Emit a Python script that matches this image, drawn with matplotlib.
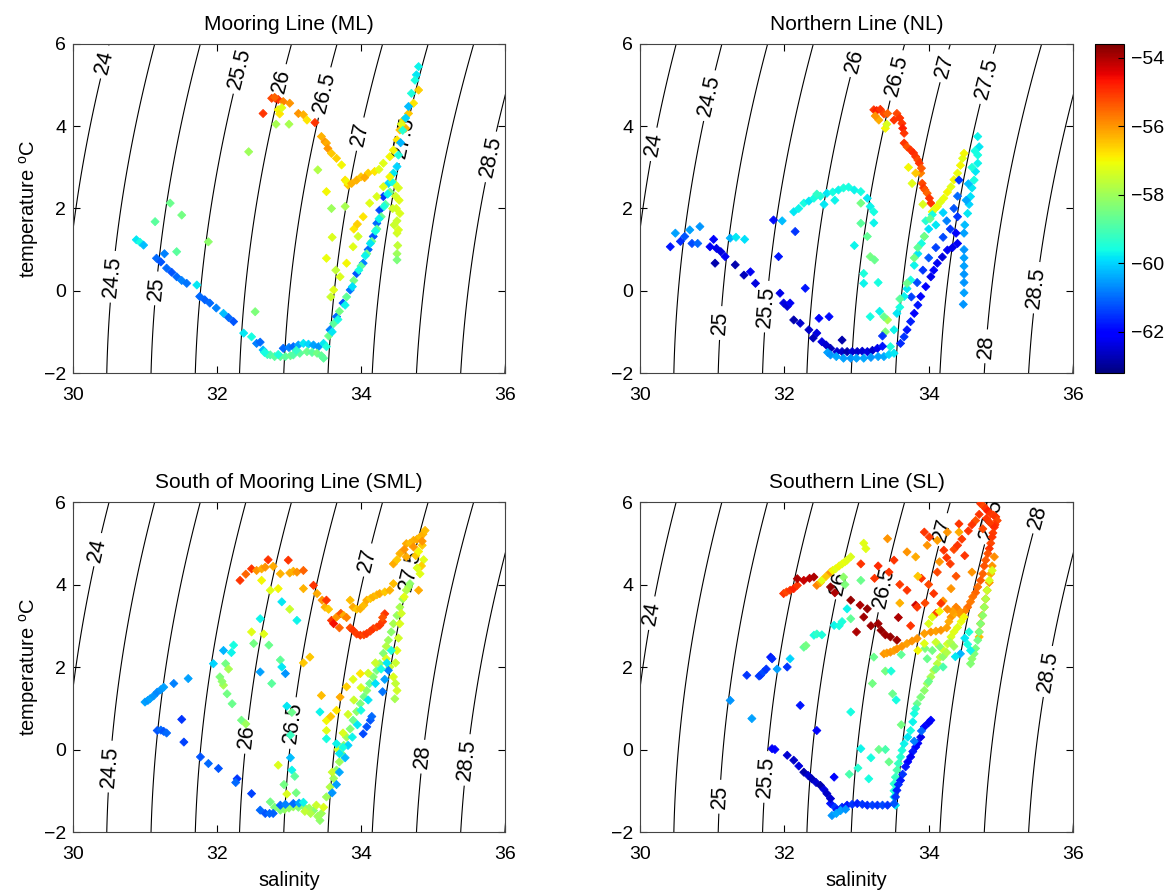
import numpy as np
import matplotlib
matplotlib.use("Agg")
import matplotlib.pyplot as plt

plt.rcParams['font.family'] = ['Liberation Sans', 'DejaVu Sans']
plt.rcParams['mathtext.fontset'] = 'custom'
plt.rcParams['mathtext.rm'] = 'Liberation Sans'

# colour = longitude (deg)
lon_min, lon_max = -63.2, -53.6
cbar_ticks = [-62, -60, -58, -56, -54]
density_levels = np.arange(24.0, 29.01, 0.5)
titles = ["Mooring Line (ML)", "Northern Line (NL)",
          "South of Mooring Line (SML)", "Southern Line (SL)"]

# rows: salinity, temperature, longitude
ml_pts = [
    (32.64, 4.31, -55.0), (32.76, 4.68, -55.2), (32.81, 4.68, -54.6), (32.85, 4.65, -55.0),
    (32.80, 4.70, -55.5), (32.92, 4.60, -55.8), (33.01, 4.56, -56.0), (33.13, 4.31, -56.0),
    (33.20, 4.28, -56.3), (33.25, 4.15, -56.8), (33.36, 4.09, -55.0),
    (32.85, 4.40, -57.0), (32.87, 4.30, -56.8), (32.90, 4.45, -57.2), (32.82, 4.05, -57.9),
    (33.00, 4.05, -57.9), (32.44, 3.38, -58.0),
    (33.45, 3.75, -56.3), (33.50, 3.62, -56.0), (33.52, 3.59, -56.2), (33.54, 3.46, -56.0),
    (33.59, 3.34, -56.5), (33.66, 3.22, -56.6), (33.73, 3.06, -57.0),
    (33.78, 2.69, -56.8), (33.82, 2.57, -56.5), (33.80, 2.65, -57.0), (33.87, 2.61, -56.3),
    (33.94, 2.69, -56.3), (34.00, 2.77, -56.5), (34.10, 2.86, -56.6), (34.19, 2.90, -56.8),
    (34.05, 2.75, -56.2),
    (34.25, 2.95, -57.2), (34.31, 3.10, -57.2), (34.40, 3.26, -57.0), (34.45, 3.42, -57.0),
    (34.50, 3.67, -56.8), (34.54, 3.91, -56.5), (34.59, 4.15, -56.6), (34.66, 4.31, -56.5),
    (34.73, 4.56, -56.8), (34.80, 4.88, -56.6), (34.62, 3.95, -56.3), (34.56, 4.05, -57.2),
    (34.80, 5.45, -59.7), (34.77, 5.25, -59.8), (34.75, 5.12, -59.6), (34.70, 4.80, -59.5),
    (34.66, 4.48, -60.2), (34.62, 4.20, -60.0), (34.58, 3.90, -59.4), (34.55, 3.60, -60.3),
    (34.52, 3.30, -59.5),
    (34.47, 2.60, -57.3), (34.48, 2.30, -57.4), (34.49, 2.00, -57.3), (34.50, 1.70, -57.5),
    (34.50, 1.40, -57.4), (34.51, 1.10, -57.6), (34.50, 0.90, -58.0), (34.50, 0.75, -58.4),
    (34.52, 1.48, -57.3), (34.54, 1.88, -57.3), (34.53, 2.20, -57.2), (34.52, 2.50, -57.3),
    (34.44, 2.00, -57.4), (34.46, 1.60, -57.5),
    (33.57, -0.95, -60.8), (33.66, -0.63, -61.0), (33.75, -0.30, -61.2), (33.85, 0.02, -60.9),
    (33.94, 0.42, -61.2), (34.03, 0.67, -60.8), (34.10, 1.00, -61.0), (34.17, 1.32, -61.2),
    (34.22, 1.64, -61.0), (34.26, 1.96, -61.3), (34.31, 2.29, -61.5), (34.38, 2.61, -60.0),
    (34.45, 2.86, -59.8), (34.50, 3.02, -60.0),
    (33.55, -1.10, -58.6), (33.62, -0.80, -58.8), (33.70, -0.50, -58.5), (33.80, -0.15, -58.7),
    (33.90, 0.25, -58.5), (34.00, 0.60, -58.8), (34.08, 0.90, -58.5), (34.15, 1.20, -58.6),
    (34.22, 1.50, -58.7), (34.28, 1.80, -58.6), (34.34, 2.10, -58.8), (34.40, 2.40, -58.5),
    (33.60, -1.00, -59.8), (33.68, -0.70, -59.6), (33.78, -0.35, -59.7), (33.88, 0.10, -59.9),
    (33.97, 0.50, -59.6), (34.06, 0.85, -59.7), (34.13, 1.15, -59.8), (34.20, 1.45, -59.6),
    (34.25, 1.75, -59.7), (34.32, 2.05, -59.5), (34.37, 2.35, -59.7), (34.43, 2.65, -59.6),
    (33.62, 0.02, -57.2), (33.71, 0.34, -57.3), (33.80, 0.67, -57.0), (33.89, 1.07, -57.2),
    (33.96, 1.32, -57.4), (34.03, 1.80, -56.8), (34.12, 2.13, -57.2), (34.22, 2.29, -57.3),
    (34.31, 2.53, -57.2), (34.40, 2.77, -57.0), (33.52, 0.79, -57.1), (33.60, 1.30, -57.3),
    (33.58, -0.15, -57.5), (33.90, 1.50, -56.8), (33.95, 1.62, -56.6),
    (33.78, 2.05, -57.9), (33.59, 2.00, -58.0), (33.52, 2.41, -57.0), (33.40, 2.94, -57.8),
    (33.65, 0.50, -57.6),
    (32.37, -1.03, -59.8), (32.48, -1.12, -59.6), (32.55, -1.28, -60.8), (32.60, -1.25, -61.0),
    (32.64, -1.44, -60.2), (32.92, -1.40, -61.0), (33.00, -1.38, -60.8), (33.06, -1.36, -61.0),
    (33.13, -1.32, -60.5), (33.20, -1.28, -59.8), (33.27, -1.30, -60.0), (33.34, -1.32, -60.5),
    (33.41, -1.36, -60.6), (33.48, -1.28, -59.8), (33.52, -1.36, -59.5),
    (32.70, -1.55, -59.2), (32.74, -1.56, -59.0), (32.80, -1.60, -58.8), (32.88, -1.60, -58.7),
    (32.95, -1.60, -58.8), (33.02, -1.58, -58.6), (33.06, -1.56, -58.9), (33.15, -1.52, -58.8),
    (33.25, -1.48, -58.6), (33.32, -1.50, -58.8), (33.39, -1.52, -58.5), (33.45, -1.58, -58.7),
    (33.48, -1.64, -58.8), (32.66, -1.50, -59.6), (32.85, -1.55, -59.5), (33.10, -1.45, -59.3),
    (30.88, 1.24, -59.8), (30.93, 1.18, -59.6), (30.98, 1.11, -60.2), (31.16, 0.79, -61.0),
    (31.22, 0.70, -61.2), (31.30, 0.55, -61.0), (31.37, 0.45, -61.2), (31.44, 0.34, -61.0),
    (31.51, 0.25, -60.8), (31.58, 0.18, -60.9), (31.72, 0.14, -59.8), (31.76, -0.14, -61.0),
    (31.83, -0.22, -61.1), (31.90, -0.30, -61.0), (31.99, -0.42, -60.8), (32.09, -0.55, -60.2),
    (32.16, -0.65, -61.0), (32.23, -0.75, -61.2),
    (31.14, 1.68, -58.8), (31.35, 2.13, -58.6), (31.51, 1.84, -58.5), (31.44, 0.95, -58.8),
    (31.88, 1.19, -58.2), (32.53, -0.51, -58.4), (31.27, 0.90, -60.8),
]

nl_pts = [
    (33.24, 4.40, -55.0), (33.28, 4.38, -54.8), (33.33, 4.41, -55.0), (33.38, 4.30, -55.2),
    (33.43, 4.31, -55.5), (33.31, 4.15, -56.2), (33.26, 4.25, -56.0), (33.40, 3.95, -57.0),
    (33.42, 4.05, -57.3), (33.52, 4.15, -55.0), (33.56, 4.31, -55.2), (33.60, 4.20, -55.0),
    (33.63, 4.07, -55.0), (33.64, 3.95, -54.8), (33.66, 3.83, -55.0), (33.66, 3.59, -55.0),
    (33.70, 3.50, -55.3), (33.75, 3.42, -55.0), (33.79, 3.35, -54.9), (33.82, 3.26, -55.0),
    (33.85, 3.18, -55.2), (33.87, 3.10, -55.0), (33.89, 2.86, -55.8), (33.90, 2.98, -55.4),
    (33.91, 2.61, -55.2), (33.93, 2.50, -55.0), (33.95, 2.45, -55.3), (33.98, 2.37, -55.5),
    (34.01, 2.25, -55.0), (34.03, 2.13, -55.0), (33.82, 2.86, -56.5), (33.77, 2.61, -57.2),
    (33.72, 3.00, -57.0), (33.92, 2.10, -57.3),
    (34.05, 1.92, -57.0), (34.09, 2.00, -57.2), (34.12, 2.05, -57.0), (34.16, 2.15, -57.2),
    (34.21, 2.25, -57.1), (34.26, 2.40, -57.0), (34.31, 2.53, -57.2), (34.35, 2.70, -57.0),
    (34.40, 2.86, -57.1), (34.44, 3.05, -57.0), (34.47, 3.22, -57.2), (34.49, 3.34, -57.0),
    (34.68, 3.75, -59.7), (34.70, 3.50, -59.8), (34.68, 3.30, -59.6), (34.68, 3.10, -59.7),
    (34.65, 2.90, -59.8), (34.63, 2.69, -59.6), (34.60, 2.50, -59.8), (34.58, 2.29, -59.9),
    (34.56, 2.10, -60.0), (34.54, 1.88, -59.8), (34.64, 3.40, -59.6), (34.60, 3.00, -59.5),
    (34.55, 2.60, -60.2), (34.52, 2.20, -60.4), (34.50, 1.60, -60.2),
    (34.49, 1.40, -60.5), (34.49, 1.00, -60.6), (34.49, 0.60, -60.5), (34.49, 0.20, -60.6),
    (34.49, -0.05, -60.5), (34.48, -0.33, -60.6), (34.49, 0.80, -60.5), (34.49, 0.40, -60.6),
    (34.42, 2.69, -61.5), (34.40, 2.30, -61.0), (34.40, 1.80, -61.5), (34.38, 1.40, -62.0),
    (34.40, 1.15, -62.2), (34.33, 1.05, -62.3), (34.26, 0.99, -62.2), (34.19, 0.82, -62.4),
    (34.12, 0.67, -62.2), (34.07, 0.50, -62.0), (34.03, 0.34, -62.3), (33.96, 0.10, -62.1),
    (33.89, -0.14, -62.0), (33.85, -0.35, -61.8), (33.80, -0.55, -62.0), (33.75, -0.75, -61.7),
    (33.70, -0.95, -61.8), (33.66, -1.12, -61.5), (33.61, -1.28, -61.6),
    (34.30, 1.50, -61.5), (34.20, 1.30, -61.3), (34.10, 1.05, -61.4), (34.00, 0.80, -61.2),
    (33.92, 0.50, -61.5), (33.84, 0.20, -61.3), (33.76, -0.15, -61.4), (34.35, 2.00, -61.2),
    (34.25, 1.70, -60.8),
    (34.20, 1.90, -60.0), (34.10, 1.60, -59.8), (34.00, 1.50, -59.9), (33.94, 1.32, -59.7),
    (33.90, 1.15, -59.6), (33.85, 0.90, -59.8), (33.80, 0.62, -59.7), (33.75, 0.26, -59.6),
    (33.70, 0.05, -59.8), (33.66, -0.14, -59.7), (33.60, -0.40, -59.6), (33.56, -0.55, -59.8),
    (33.52, -0.95, -59.7), (33.47, -1.36, -59.5), (34.05, 1.85, -59.6), (33.96, 1.70, -59.4),
    (33.94, 1.32, -58.5), (33.85, 1.05, -58.7), (33.80, 0.80, -58.5), (33.70, 0.18, -58.6),
    (33.60, -0.20, -58.8), (33.43, -0.71, -57.9), (33.40, -1.00, -58.4), (34.02, 1.75, -58.7),
    (32.13, 1.92, -59.8), (32.20, 2.00, -59.7), (32.27, 2.13, -59.6), (32.34, 2.18, -59.8),
    (32.41, 2.25, -59.6), (32.50, 2.30, -59.5), (32.59, 2.37, -59.8), (32.67, 2.40, -59.6),
    (32.75, 2.45, -59.7), (32.82, 2.50, -59.5), (32.89, 2.52, -59.6), (32.97, 2.45, -59.7),
    (33.06, 2.41, -59.6), (33.15, 2.25, -59.8), (33.19, 2.05, -59.7), (33.24, 1.92, -59.6),
    (33.06, 2.13, -58.5), (33.06, 1.64, -58.8), (33.15, 1.32, -58.7), (33.19, 0.83, -58.5),
    (33.25, 0.75, -58.6), (33.10, 0.42, -59.5), (33.10, 0.18, -59.7), (33.30, 0.20, -59.6),
    (33.19, -0.63, -59.6), (33.38, -0.63, -58.6), (33.32, -0.50, -59.7), (32.97, 1.10, -59.7),
    (33.24, 1.65, -59.7), (32.55, 2.10, -59.8), (32.70, 2.20, -59.7), (32.45, 2.35, -59.3),
    (30.42, 1.07, -61.8), (30.49, 1.40, -60.5), (30.56, 1.20, -61.6), (30.62, 1.32, -61.2),
    (30.69, 1.48, -60.5), (30.83, 1.56, -60.6), (30.72, 1.15, -61.3), (30.80, 1.15, -61.0),
    (30.97, 1.07, -62.2), (31.06, 1.03, -62.3), (31.02, 1.25, -62.0), (31.18, 0.83, -62.2),
    (31.04, 0.67, -62.8), (31.25, 1.28, -60.3), (31.33, 1.30, -59.8), (31.45, 1.25, -59.9),
    (31.32, 0.63, -62.8), (31.44, 0.38, -62.7), (31.53, 0.46, -62.2), (31.60, 0.18, -62.4),
    (31.12, 0.95, -62.4),
    (31.92, 0.83, -61.8), (31.85, 1.72, -61.9), (31.97, 1.70, -60.2), (32.15, 1.44, -61.5),
    (31.94, -0.06, -62.3), (31.99, -0.30, -62.4), (32.04, -0.38, -62.5), (32.08, -0.30, -62.2),
    (32.13, -0.71, -62.8), (32.29, 0.06, -61.8), (32.22, -0.79, -62.5), (32.34, -0.95, -62.6),
    (32.45, -1.03, -62.4), (32.48, -0.67, -62.0), (32.62, -0.63, -61.9), (32.40, -1.15, -62.7),
    (32.52, -1.24, -62.4), (32.58, -1.32, -62.5), (32.64, -1.40, -62.7), (32.73, -1.48, -62.5),
    (32.80, -1.48, -62.6), (32.87, -1.48, -62.8), (32.94, -1.48, -62.5), (33.01, -1.48, -62.6),
    (33.08, -1.47, -62.5), (33.15, -1.48, -62.4), (33.22, -1.45, -62.6), (33.29, -1.40, -62.3),
    (33.36, -1.35, -61.8), (32.80, -1.20, -62.8), (33.36, -1.10, -61.5),
    (32.60, -1.50, -60.5), (32.64, -1.56, -60.6), (32.72, -1.60, -60.4), (32.82, -1.64, -60.5),
    (32.92, -1.64, -60.6), (33.00, -1.64, -60.5), (33.10, -1.64, -60.4), (33.20, -1.62, -60.6),
    (33.30, -1.60, -60.5), (33.38, -1.60, -60.4), (33.45, -1.55, -60.0), (33.52, -1.52, -59.8),
]

sml_pts = [
    (32.32, 4.10, -55.0), (32.40, 4.25, -55.5), (32.48, 4.38, -55.0), (32.55, 4.34, -56.0),
    (32.62, 4.38, -56.2), (32.67, 4.42, -56.0), (32.71, 4.60, -55.0), (32.78, 4.44, -56.2),
    (32.62, 4.10, -57.0), (32.88, 4.26, -56.3), (32.99, 4.59, -55.0), (33.01, 4.28, -56.2),
    (33.06, 4.32, -56.3), (33.11, 4.30, -56.0), (33.20, 4.34, -55.5), (32.74, 3.86, -57.2),
    (32.85, 3.90, -57.0), (33.20, 3.90, -56.3), (33.34, 3.98, -55.0), (33.39, 3.78, -56.2),
    (33.46, 3.62, -56.0), (33.50, 3.45, -56.3), (33.52, 3.62, -55.0), (33.55, 3.40, -56.5),
    (33.59, 3.13, -55.0), (33.62, 3.05, -54.6), (33.66, 3.21, -56.0), (33.72, 3.30, -55.3),
    (33.76, 3.25, -56.2), (33.80, 3.20, -55.8), (33.85, 3.62, -56.4), (33.89, 3.45, -56.2),
    (33.94, 3.40, -56.5), (33.99, 3.41, -56.3), (34.04, 3.50, -56.4), (34.08, 3.62, -56.2),
    (34.13, 3.66, -56.5), (34.17, 3.70, -56.3), (34.22, 3.75, -56.4), (34.26, 3.78, -56.2),
    (34.33, 3.82, -56.5), (34.40, 3.86, -56.3), (34.45, 4.02, -56.4), (34.45, 4.50, -56.2),
    (34.54, 4.75, -56.3), (34.50, 4.60, -56.5), (34.63, 4.99, -56.2), (34.68, 5.00, -56.4),
    (34.73, 5.07, -56.3), (34.78, 5.10, -56.2), (34.82, 5.15, -56.4), (34.86, 5.22, -56.3),
    (34.89, 5.31, -56.4), (34.60, 4.85, -56.0), (33.70, 2.95, -55.5),
    (33.85, 2.95, -55.2), (33.89, 2.89, -55.0), (33.94, 2.80, -55.1), (33.99, 2.77, -55.0),
    (34.04, 2.78, -55.2), (34.08, 2.81, -55.0), (34.13, 2.87, -55.1), (34.17, 2.93, -55.0),
    (34.22, 2.97, -55.2), (34.26, 3.01, -55.0), (34.30, 3.10, -55.1), (34.33, 3.29, -55.0),
    (34.30, 3.20, -55.3),
    (34.63, 4.67, -56.2), (34.73, 4.91, -56.0), (34.76, 4.70, -56.5), (34.80, 4.80, -57.0),
    (34.82, 4.26, -57.2), (34.80, 3.86, -56.2), (34.85, 4.95, -56.5), (34.87, 4.60, -57.2),
    (34.84, 4.45, -56.6), (34.78, 4.40, -57.3), (34.85, 5.05, -56.0),
    (34.68, 4.02, -58.2), (34.66, 3.94, -58.0), (34.63, 3.86, -57.8), (34.58, 3.65, -58.0),
    (34.54, 3.45, -57.9), (34.50, 3.25, -58.1), (34.45, 3.05, -57.9), (34.42, 2.85, -58.2),
    (34.38, 2.65, -58.0), (34.35, 2.50, -57.8), (34.31, 2.33, -58.3), (34.26, 2.08, -58.2),
    (34.22, 1.92, -58.5), (34.17, 1.76, -58.3), (34.12, 1.60, -58.6), (34.08, 1.43, -58.2),
    (34.04, 1.28, -58.5), (33.99, 1.11, -58.4), (33.94, 0.92, -58.2), (33.89, 0.71, -58.6),
    (33.85, 0.50, -58.3), (33.80, 0.30, -58.0), (33.76, 0.10, -58.2), (33.73, -0.10, -58.4),
    (33.70, -0.30, -58.0), (33.66, -0.50, -58.2), (33.62, -0.70, -58.0), (33.57, -0.91, -57.8),
    (33.52, -1.15, -58.0),
    (34.60, 3.70, -57.2), (34.56, 3.30, -57.4), (34.54, 3.05, -57.3), (34.52, 2.70, -57.4),
    (34.50, 2.40, -57.2), (34.48, 2.10, -57.5), (34.45, 1.76, -57.3), (34.48, 1.60, -57.6),
    (34.50, 1.43, -57.4), (34.47, 1.23, -57.9), (34.40, 2.00, -57.5), (34.35, 2.20, -57.3),
    (34.20, 2.10, -57.5), (34.10, 1.85, -57.4), (34.00, 1.50, -57.3), (33.90, 1.20, -57.5),
    (33.82, 0.85, -57.4), (33.75, 0.40, -57.3), (33.68, 0.00, -57.4), (33.60, -0.55, -57.5),
    (34.38, 1.92, -60.8), (34.36, 2.10, -59.8), (34.33, 1.70, -60.5), (34.28, 1.95, -59.6),
    (34.20, 1.60, -59.9), (34.13, 0.71, -61.2), (34.15, 0.80, -61.0), (34.03, 0.38, -61.3),
    (34.08, 0.55, -61.2), (34.10, 1.20, -59.8), (34.00, 0.95, -59.6), (33.95, 0.60, -59.8),
    (33.88, 0.30, -59.7), (33.82, 0.10, -60.0), (33.78, -0.20, -60.2), (33.70, -0.55, -60.4),
    (33.66, -0.85, -60.5), (33.60, -1.05, -60.6), (34.42, 2.40, -59.5), (34.30, 1.40, -60.9),
    (33.99, 1.84, -56.8), (33.89, 1.70, -57.2), (33.80, 1.52, -56.6), (33.71, 1.27, -56.2),
    (33.66, 0.95, -56.8), (33.52, 0.46, -57.2), (33.45, 1.31, -56.4), (33.29, 2.24, -56.5),
    (33.52, 0.70, -57.0), (33.58, 0.80, -56.5),
    (33.43, 0.91, -59.7), (33.52, 0.26, -59.6), (33.66, 0.14, -59.7), (33.70, -0.10, -59.8),
    (33.75, 0.05, -59.6),
    (33.43, -1.72, -58.2), (33.40, -1.62, -58.0), (33.34, -1.48, -58.3), (33.28, -1.42, -58.0),
    (33.20, -1.38, -58.2), (33.13, -1.40, -58.3), (33.06, -1.39, -58.0), (33.00, -1.42, -58.2),
    (32.94, -1.45, -58.1), (32.88, -1.47, -58.3), (32.80, -1.40, -58.4), (32.74, -1.27, -58.5),
    (33.45, -1.55, -58.0), (33.38, -1.35, -57.5), (33.48, -1.40, -57.3), (33.30, -1.55, -57.8),
    (33.22, -1.50, -57.6),
    (32.60, -1.47, -61.0), (32.67, -1.55, -61.2), (32.73, -1.55, -61.0), (32.78, -1.55, -61.1),
    (32.88, -1.35, -61.0), (32.95, -1.33, -60.8), (33.06, -1.31, -61.0), (33.14, -1.30, -60.5),
    (33.20, -1.28, -59.7),
    (31.00, 1.15, -60.5), (31.04, 1.19, -60.6), (31.07, 1.23, -60.5), (31.12, 1.30, -60.6),
    (31.17, 1.39, -60.7), (31.22, 1.45, -60.6), (31.26, 1.51, -60.5), (31.40, 1.60, -60.8),
    (31.60, 1.72, -60.5), (31.17, 0.46, -61.2), (31.22, 0.47, -61.0), (31.26, 0.44, -61.2),
    (31.30, 0.40, -61.0), (31.51, 0.73, -61.5), (31.54, 0.18, -61.4), (31.77, -0.18, -61.2),
    (31.88, -0.34, -61.0), (32.02, -0.46, -61.2), (32.28, -0.71, -61.5), (32.26, -0.80, -61.0),
    (32.48, -1.07, -61.4),
    (31.95, 2.08, -60.0), (32.09, 2.40, -60.3), (32.23, 2.53, -59.6), (32.20, 2.35, -59.7),
    (32.12, 2.08, -58.5), (32.16, 1.95, -57.9), (32.04, 1.76, -58.4), (32.09, 1.56, -57.9),
    (32.07, 1.65, -58.2), (32.14, 1.35, -58.5), (32.21, 1.11, -58.6), (32.34, 0.71, -58.5),
    (32.40, 0.62, -58.0), (32.48, 2.85, -57.2), (32.51, 2.57, -58.5), (32.60, 3.17, -59.7),
    (32.65, 2.80, -57.2), (32.72, 2.53, -58.6), (32.60, 1.88, -60.5), (32.76, 1.60, -58.8),
    (32.88, 2.17, -58.7), (32.90, 2.00, -59.8), (32.95, 1.84, -60.6), (32.90, 3.58, -59.8),
    (33.11, 3.13, -59.7), (33.01, 3.40, -57.5), (32.97, 1.05, -59.8), (33.04, 0.90, -58.6),
    (33.02, 0.35, -59.2), (32.85, -0.38, -57.3), (33.02, -0.20, -60.2), (33.04, -0.50, -59.7),
    (33.08, -0.65, -58.8), (32.93, -0.85, -58.5), (32.97, -1.08, -57.3), (33.10, -1.05, -58.5),
    (33.20, 2.10, -56.5),
]

sl_pts = [
    (34.72, 5.96, -55.0), (34.76, 5.90, -55.2), (34.79, 5.84, -55.0), (34.82, 5.78, -54.8),
    (34.86, 5.72, -55.0), (34.90, 5.68, -55.1), (34.93, 5.64, -55.0), (34.95, 5.55, -55.2),
    (34.92, 5.45, -55.0), (34.91, 5.39, -54.9), (34.89, 5.25, -55.1), (34.88, 5.15, -55.0),
    (34.86, 5.00, -55.2), (34.84, 4.87, -55.0), (34.82, 4.75, -55.3), (34.79, 4.59, -55.4),
    (34.77, 4.45, -55.3), (34.75, 4.26, -55.5), (34.72, 4.10, -55.4), (34.68, 3.94, -55.6),
    (34.65, 3.80, -55.5), (34.61, 3.70, -55.6), (34.58, 3.58, -55.7), (34.54, 3.45, -55.6),
    (34.50, 3.35, -55.8), (34.80, 5.60, -55.0), (34.85, 5.50, -55.1), (34.70, 5.70, -55.0),
    (34.65, 5.55, -55.3), (34.60, 5.45, -55.0), (34.75, 5.35, -55.2), (34.55, 5.30, -55.0),
    (34.91, 4.67, -55.9), (34.88, 4.45, -56.0), (34.86, 4.26, -56.2), (34.84, 4.05, -56.0),
    (34.81, 3.86, -56.1), (34.79, 3.65, -56.0), (34.77, 3.45, -56.3), (34.74, 3.25, -56.2),
    (34.72, 3.05, -56.1), (34.70, 2.85, -56.3), (34.70, 2.73, -56.4),
    (34.31, 3.21, -56.0), (34.36, 3.30, -56.2), (34.42, 3.37, -56.0), (34.38, 3.45, -55.8),
    (34.33, 3.35, -56.1), (34.28, 3.10, -56.2), (34.45, 3.25, -56.0), (34.26, 3.40, -55.9),
    (34.20, 3.60, -56.0),
    (34.88, 4.34, -57.3), (34.84, 4.10, -57.3), (34.81, 3.86, -57.5), (34.79, 3.65, -57.8),
    (34.77, 3.45, -58.0), (34.75, 3.25, -58.2), (34.72, 3.05, -58.3), (34.70, 2.85, -58.4),
    (34.68, 2.65, -58.5), (34.65, 2.45, -58.5), (34.63, 2.32, -58.4), (34.60, 2.20, -58.2),
    (34.58, 2.08, -58.3),
    (34.58, 2.40, -59.7), (34.54, 2.55, -59.6), (34.44, 2.32, -60.3), (34.37, 2.25, -59.8),
    (34.50, 2.70, -59.8), (34.56, 2.85, -59.5),
    (34.49, 3.21, -57.0), (34.45, 3.10, -57.1), (34.40, 2.96, -57.2), (34.35, 2.85, -57.2),
    (34.31, 2.73, -57.3), (34.26, 2.56, -57.4), (34.21, 2.40, -57.4), (34.16, 2.24, -57.6),
    (34.12, 2.08, -57.7), (34.07, 1.92, -57.8), (34.03, 1.76, -57.9), (33.98, 1.60, -58.0),
    (33.94, 1.43, -58.2), (33.89, 1.27, -58.4), (33.84, 1.11, -58.6), (33.82, 0.99, -59.2),
    (33.80, 0.87, -59.6), (33.78, 0.67, -59.7), (33.75, 0.46, -59.6), (33.71, 0.30, -59.8),
    (33.66, 0.14, -59.7), (33.63, -0.02, -59.5), (33.61, -0.18, -59.4), (33.58, -0.34, -59.2),
    (33.56, -0.50, -59.0), (33.54, -0.67, -59.2), (33.52, -0.83, -59.4), (33.52, -1.00, -59.5),
    (33.52, -1.15, -59.7), (33.54, -1.35, -59.8),
    (34.30, 2.60, -57.8), (34.20, 2.25, -58.2), (34.10, 1.95, -58.5), (34.00, 1.65, -58.6),
    (34.35, 2.50, -58.0), (34.25, 2.35, -57.8), (34.15, 2.50, -58.3), (34.05, 2.40, -58.5),
    (33.95, 2.45, -58.4), (34.10, 2.60, -57.5), (33.98, 2.20, -58.6), (34.20, 2.00, -59.0),
    (34.03, 0.71, -62.0), (34.00, 0.65, -62.2), (33.94, 0.55, -62.0), (33.89, 0.30, -62.3),
    (33.85, 0.15, -62.1), (33.82, 0.06, -62.0), (33.78, -0.05, -61.8), (33.75, -0.18, -62.2),
    (33.71, -0.30, -62.0), (33.68, -0.42, -61.8), (33.64, -0.60, -61.5), (33.61, -0.75, -61.8),
    (33.58, -0.85, -61.6), (33.56, -0.99, -61.7), (33.54, -1.15, -61.5), (33.52, -1.31, -61.2),
    (33.90, 0.45, -61.0), (33.80, 0.20, -60.8),
    (32.64, -1.31, -61.8), (32.70, -1.40, -61.5), (32.73, -1.47, -61.8), (32.80, -1.40, -61.6),
    (32.87, -1.35, -61.8), (32.94, -1.33, -61.5), (33.01, -1.31, -61.7), (33.08, -1.33, -61.5),
    (33.15, -1.35, -61.6), (33.22, -1.35, -61.4), (33.29, -1.35, -61.5), (33.36, -1.35, -61.3),
    (33.43, -1.35, -61.5), (32.66, -1.60, -60.6), (32.72, -1.55, -60.4), (32.78, -1.48, -60.5),
    (32.85, -1.45, -60.6),
    (32.04, -0.14, -62.5), (32.13, -0.26, -62.6), (32.20, -0.40, -62.4), (32.27, -0.55, -62.8),
    (32.33, -0.63, -62.5), (32.38, -0.71, -62.7), (32.44, -0.80, -62.5), (32.50, -0.87, -62.8),
    (32.55, -0.97, -62.4), (32.59, -1.07, -62.6), (32.64, -1.19, -62.5), (31.83, 0.02, -62.2),
    (31.87, 0.00, -62.0), (32.45, 0.46, -62.0), (32.69, -0.67, -62.0),
    (31.48, 1.80, -61.5), (31.65, 1.78, -61.4), (31.67, 1.80, -61.5), (31.71, 1.88, -61.3),
    (31.75, 1.95, -61.5), (31.81, 2.24, -61.8), (31.83, 2.20, -61.6), (31.25, 1.19, -60.6),
    (31.55, 0.75, -60.5), (32.22, 1.07, -61.8), (31.90, 1.95, -60.5), (32.04, 2.00, -61.5),
    (32.08, 2.20, -60.0),
    (32.27, 2.48, -58.7), (32.30, 2.52, -58.5), (32.41, 2.77, -59.6), (32.45, 2.80, -59.3),
    (32.52, 2.78, -59.5), (32.69, 3.01, -59.7), (32.76, 3.00, -59.6), (32.80, 3.10, -59.5),
    (32.87, 3.41, -59.7), (32.92, 3.17, -58.7), (32.92, 0.91, -59.6), (33.06, 0.02, -59.7),
    (33.20, -0.20, -59.6), (33.31, 0.00, -58.6), (33.40, 0.00, -59.0), (33.17, -0.71, -59.6),
    (33.45, -0.30, -58.6), (33.24, 2.24, -58.6), (33.22, 1.60, -58.5), (33.50, 1.35, -58.6),
    (33.40, 1.90, -58.5), (33.48, 1.90, -59.5), (33.62, 2.30, -58.7), (33.55, 1.20, -59.6),
    (33.62, 0.60, -58.5), (33.02, -0.45, -59.4), (32.90, -0.60, -59.0),
    (31.99, 3.78, -55.0), (32.03, 3.82, -55.2), (32.08, 3.86, -55.0), (32.13, 3.90, -54.8),
    (32.18, 3.98, -55.0), (32.18, 4.14, -54.0), (32.27, 4.10, -54.2), (32.35, 4.15, -54.1),
    (32.41, 4.18, -54.0), (32.45, 3.98, -55.8), (32.50, 4.05, -56.2), (32.52, 4.10, -57.2),
    (32.58, 4.20, -56.5), (32.64, 4.30, -56.0), (32.67, 4.34, -57.0), (32.71, 4.38, -57.2),
    (32.76, 4.45, -57.0), (32.80, 4.50, -57.2), (32.84, 4.55, -57.1), (32.87, 4.59, -57.2),
    (32.92, 4.67, -57.3), (32.82, 4.18, -58.2), (32.84, 4.00, -58.4), (33.06, 4.10, -58.6),
    (33.13, 4.87, -57.2),
    (32.64, 3.94, -53.8), (32.70, 3.80, -54.0), (32.92, 3.62, -53.8), (33.10, 3.21, -53.9),
    (33.15, 3.41, -53.8), (33.20, 3.00, -53.9), (33.34, 2.89, -53.8), (33.30, 3.05, -53.9),
    (33.47, 2.73, -53.8), (33.56, 2.65, -53.9), (33.40, 2.78, -53.9), (33.00, 2.85, -54.0),
    (33.05, 3.50, -54.0), (33.82, 3.50, -54.2), (33.58, 3.20, -54.0),
    (33.06, 4.50, -55.0), (33.25, 4.15, -55.0), (33.30, 4.45, -54.9), (33.52, 4.59, -55.0),
    (33.45, 4.30, -55.0), (33.60, 4.00, -55.1), (33.70, 3.86, -55.0), (33.84, 3.45, -55.0),
    (33.94, 5.27, -55.0), (34.01, 5.15, -55.1), (33.90, 4.15, -55.0), (34.07, 3.78, -55.0),
    (34.17, 3.54, -55.0), (34.12, 4.30, -55.2), (34.21, 4.83, -55.0), (34.30, 4.50, -55.1),
    (34.25, 4.65, -55.0), (34.35, 4.85, -55.2), (34.40, 4.95, -55.0), (34.42, 5.47, -55.0),
    (34.46, 5.10, -55.1), (34.50, 4.70, -55.0), (34.38, 4.20, -55.3), (34.00, 4.00, -55.2),
    (33.95, 3.55, -55.2), (34.10, 3.30, -55.2), (33.75, 3.00, -55.0),
    (33.43, 5.11, -56.0), (33.70, 4.79, -56.0), (33.82, 4.67, -56.2), (33.98, 4.95, -56.0),
    (34.12, 5.07, -56.1), (34.26, 5.27, -56.0), (34.42, 5.27, -56.2), (34.31, 3.90, -56.0),
    (34.60, 4.30, -56.0), (33.85, 4.20, -56.5), (33.60, 3.55, -56.3), (34.15, 4.55, -56.0),
    (33.38, 2.32, -56.0), (33.42, 2.34, -56.1), (33.47, 2.36, -56.0), (33.52, 2.40, -56.1),
    (33.56, 2.44, -56.0), (33.63, 2.50, -56.0), (33.70, 2.57, -56.1), (33.77, 2.63, -56.0),
    (33.84, 2.69, -56.0), (33.94, 2.81, -56.1), (34.03, 2.85, -56.0), (34.10, 2.87, -56.1),
    (34.17, 2.89, -56.0), (34.25, 2.95, -56.1),
    (34.05, 3.21, -57.2), (34.15, 3.35, -57.0), (33.94, 2.57, -57.2), (33.85, 2.40, -57.0),
    (34.00, 3.05, -57.3), (33.10, 5.00, -57.2),
]

# where the contour labels sit (salinity, temperature)
ml_labels = [(30.47, 5.55), (30.61, 0.33), (31.2, 0.05), (32.32, 5.4), (32.92, 5.1),
             (33.54, 4.8), (34.01, 3.8), (34.65, 3.7), (35.79, 3.26)]
nl_labels = [(30.25, 3.54), (31.02, 4.72), (31.16, -0.79), (31.78, -0.39), (33.03, 5.57),
             (33.61, 5.21), (34.26, 5.45), (34.88, 5.12), (34.86, -1.36), (35.56, 0.06)]
sml_labels = [(30.38, 4.83), (30.56, -0.42), (32.46, 0.3), (33.11, 0.63), (34.1, 4.59),
              (34.7, 4.34), (34.89, -0.18), (35.51, -0.26)]
sl_labels = [(30.21, 3.29), (31.16, -1.15), (31.78, -0.67), (32.82, 4.02), (33.38, 3.94),
             (34.24, 5.31), (34.91, 5.56), (35.58, 5.6), (35.69, 1.88)]


def sigma_t(S, T):
    """UNESCO (1980) density at the surface, minus 1000."""
    rho_w = (999.842594 + 6.793952e-2 * T - 9.095290e-3 * T**2 + 1.001685e-4 * T**3
             - 1.120083e-6 * T**4 + 6.536332e-9 * T**5)
    A = 8.24493e-1 - 4.0899e-3 * T + 7.6438e-5 * T**2 - 8.2467e-7 * T**3 + 5.3875e-9 * T**4
    B = -5.72466e-3 + 1.0227e-4 * T - 1.6546e-6 * T**2
    C = 4.8314e-4
    return rho_w + A * S + B * S**1.5 + C * S**2 - 1000.0


W, H = 1171, 896
fig = plt.figure(figsize=(W / 100, H / 100), dpi=100)


def px_axes(x0, y0, x1, y1):
    return fig.add_axes([x0 / W, 1 - y1 / H, (x1 - x0) / W, (y1 - y0) / H])


boxes = [(73, 44, 505, 373), (640, 44, 1073, 373),
         (73, 502, 505, 832), (640, 502, 1073, 832)]
panels = [ml_pts, nl_pts, sml_pts, sl_pts]
label_pos = [ml_labels, nl_labels, sml_labels, sl_labels]

sg, tg = np.meshgrid(np.linspace(29.8, 36.2, 300), np.linspace(-2.2, 6.2, 300))
dens = sigma_t(sg, tg)

for i, (box, pts) in enumerate(zip(boxes, panels)):
    ax = px_axes(*box)
    ax.set_xlim(30, 36)
    ax.set_ylim(-2, 6)
    cs = ax.contour(sg, tg, dens, levels=density_levels, colors='k', linewidths=0.8)
    ax.clabel(cs, manual=label_pos[i], fmt='%g', fontsize=15.5, inline=True,
              inline_spacing=5)
    pts = np.array(pts)
    sc = ax.scatter(pts[:, 0], pts[:, 1], c=pts[:, 2], cmap='jet',
                    vmin=lon_min, vmax=lon_max, marker='D', s=17,
                    linewidths=0.6, edgecolors='face', zorder=4)
    ax.set_xticks([30, 32, 34, 36])
    ax.set_yticks([-2, 0, 2, 4, 6])
    ax.tick_params(direction='in', top=True, right=True, length=5, width=0.8,
                   labelsize=14, colors='k')
    ax.tick_params(axis='x', pad=10)
    ax.tick_params(axis='y', pad=5)
    for sp in ax.spines.values():
        sp.set_color('#444444')
        sp.set_linewidth(0.8)
    ax.set_title(titles[i], fontsize=15, pad=10)
    if i % 2 == 0:
        ax.set_ylabel(r'temperature $^{\rm o}$C', fontsize=14.5, labelpad=2)
    if i >= 2:
        ax.set_xlabel('salinity', fontsize=14.5, labelpad=6)

cax = px_axes(1095, 44, 1124, 373)
cb = fig.colorbar(sc, cax=cax, ticks=cbar_ticks)
cb.ax.tick_params(direction='in', length=4, width=0.8, labelsize=14, pad=5)
cb.outline.set_linewidth(0.8)

fig.savefig('out.png', dpi=100)
